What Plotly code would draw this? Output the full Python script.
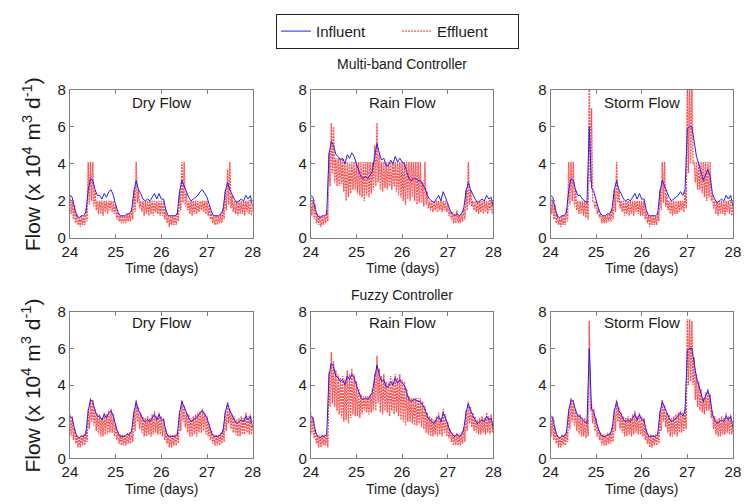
import numpy as np
import plotly.graph_objects as go

# Sample times (days), 0.05-day spacing from day 24 to day 28
t = np.round(24 + 0.05 * np.arange(81), 2)

# Influent flow (x 10^4 m3/d) for the three weather scenarios
inf_dry = [2.3, 2.2, 1.6, 1.2, 1.1, 1.2, 1.2, 1.4, 2.6, 3.2, 3.1, 2.6, 2.3, 2.3, 2.1, 2.4, 2.2, 2.5, 2.6, 2.3,
           1.8, 1.4, 1.2, 1.2, 1.2, 1.3, 1.3, 1.5, 2.5, 3.1, 2.6, 2.4, 2.1, 2.0, 2.1, 2.0, 2.2, 2.4, 2.1, 2.4,
           2.1, 2.1, 1.5, 1.2, 1.2, 1.2, 1.2, 1.3, 2.5, 3.1, 2.8, 2.4, 2.2, 2.0, 2.1, 2.2, 2.3, 2.5, 2.6, 2.4,
           2.2, 1.8, 1.4, 1.2, 1.2, 1.2, 1.3, 1.5, 2.5, 3.0, 2.6, 2.3, 2.1, 1.9, 2.0, 2.1, 2.0, 2.3, 2.1, 2.3,
           1.7]
inf_rain = [2.3, 2.2, 1.5, 1.2, 1.1, 1.2, 1.2, 1.3, 4.5, 5.2, 5.0, 4.5, 4.4, 4.2, 4.3, 4.0, 4.5, 4.3, 4.6, 4.4,
            4.0, 3.6, 3.3, 3.2, 3.3, 3.2, 3.4, 3.6, 4.4, 5.1, 4.6, 4.2, 4.3, 3.9, 3.9, 4.2, 4.0, 4.4, 4.1, 4.3,
            4.1, 4.0, 3.6, 3.2, 3.1, 3.2, 3.2, 3.1, 3.1, 2.9, 2.7, 2.3, 2.1, 2.0, 1.9, 2.1, 2.3, 2.0, 2.5, 2.2,
            1.8, 1.5, 1.3, 1.2, 1.3, 1.2, 1.3, 1.6, 2.5, 3.0, 2.6, 2.3, 2.1, 1.9, 2.0, 2.1, 2.0, 2.3, 2.1, 2.2,
            1.6]
inf_storm = [2.3, 2.2, 1.6, 1.2, 1.1, 1.2, 1.2, 1.4, 2.6, 3.2, 3.1, 2.6, 2.3, 2.3, 2.1, 2.0, 1.9, 6.0, 2.7, 2.5,
             2.0, 1.6, 1.3, 1.2, 1.2, 1.3, 1.3, 1.6, 2.6, 3.1, 2.6, 2.4, 2.1, 2.0, 2.1, 2.0, 2.2, 2.4, 2.1, 2.4,
             2.1, 2.1, 1.5, 1.2, 1.2, 1.2, 1.2, 1.3, 2.5, 3.1, 2.8, 2.4, 2.2, 2.0, 2.1, 2.2, 2.3, 2.5, 2.3, 2.6,
             5.9, 6.0, 6.0, 5.2, 4.4, 4.0, 3.6, 3.1, 3.4, 3.7, 3.3, 2.4, 2.1, 1.9, 2.0, 2.1, 2.0, 2.3, 2.1, 2.3,
             1.7]

# Effluent flow: upper and lower swing of the rapidly cycling pump output
mb_dry_hi = [2.3, 2.0, 1.8, 1.3, 1.1, 1.2, 1.2, 1.6, 4.1, 4.1, 4.1, 2.6, 2.0, 2.0, 2.0, 2.0, 2.0, 2.0, 2.0, 2.0,
             1.8, 1.4, 1.2, 1.2, 1.2, 1.3, 1.3, 1.6, 2.6, 4.1, 2.6, 2.0, 2.0, 2.0, 2.0, 2.0, 2.0, 2.0, 2.0, 2.0,
             2.0, 2.0, 1.5, 1.2, 1.2, 1.2, 1.2, 1.4, 2.6, 4.1, 4.1, 2.4, 2.0, 2.0, 2.0, 2.0, 2.0, 2.0, 2.0, 2.0,
             2.0, 1.8, 1.4, 1.2, 1.2, 1.2, 1.3, 1.6, 2.6, 3.7, 4.1, 2.3, 2.0, 2.0, 2.0, 2.0, 2.0, 2.0, 2.0, 2.0,
             1.7]
mb_dry_lo = [1.3, 1.0, 0.8, 0.7, 0.6, 0.7, 0.7, 0.9, 1.8, 2.0, 1.7, 1.5, 1.3, 1.3, 1.2, 1.4, 1.3, 1.5, 1.4, 1.3,
             1.0, 0.9, 0.8, 0.8, 0.8, 0.9, 0.9, 1.0, 1.4, 1.9, 1.6, 1.4, 1.2, 1.3, 1.2, 1.3, 1.2, 1.4, 1.3, 1.2,
             1.2, 1.0, 0.8, 0.6, 0.7, 0.7, 0.7, 0.9, 1.5, 1.9, 1.7, 1.5, 1.3, 1.2, 1.3, 1.3, 1.4, 1.5, 1.4, 1.3,
             1.2, 1.0, 0.8, 0.7, 0.7, 0.8, 0.8, 1.0, 1.5, 1.8, 1.6, 1.4, 1.3, 1.2, 1.3, 1.3, 1.2, 1.4, 1.3, 1.2,
             1.3]
mb_rain_hi = [2.2, 2.0, 1.8, 1.3, 1.2, 1.2, 1.2, 1.5, 4.6, 6.2, 6.0, 4.3, 4.3, 4.3, 4.3, 4.1, 4.1, 4.1, 4.1, 4.1,
              4.1, 4.1, 4.1, 4.1, 4.1, 4.1, 4.1, 4.1, 5.0, 6.2, 4.6, 4.1, 4.1, 4.1, 4.1, 4.1, 4.1, 4.1, 4.1, 4.1,
              4.1, 4.1, 4.1, 4.1, 4.1, 4.1, 4.1, 4.1, 4.1, 3.0, 4.1, 2.5, 2.0, 2.0, 2.0, 2.0, 2.0, 2.0, 2.0, 2.0,
              1.8, 1.5, 1.4, 1.3, 1.5, 1.2, 1.3, 1.6, 2.6, 4.1, 2.6, 2.0, 2.0, 2.0, 2.0, 2.0, 2.0, 2.0, 2.0, 2.0,
              1.6]
mb_rain_lo = [1.2, 1.0, 0.8, 0.7, 0.6, 0.7, 0.8, 0.9, 2.8, 3.5, 3.0, 2.8, 2.8, 2.9, 2.5, 2.0, 2.2, 2.4, 2.6, 2.6,
              2.4, 2.3, 2.2, 2.0, 2.3, 2.2, 2.4, 2.6, 2.8, 3.0, 2.6, 2.5, 2.7, 2.6, 2.8, 2.6, 2.8, 2.5, 2.3, 2.2,
              2.0, 1.8, 2.1, 2.0, 2.2, 2.0, 1.8, 1.9, 1.9, 1.7, 1.8, 1.6, 1.5, 1.4, 1.5, 1.4, 1.5, 1.4, 1.5, 1.4,
              1.2, 1.0, 0.8, 0.8, 0.8, 0.8, 0.9, 1.0, 1.5, 1.8, 1.7, 1.5, 1.4, 1.3, 1.4, 1.3, 1.4, 1.3, 1.5, 1.3,
              1.2]
mb_storm_hi = [2.3, 2.0, 1.8, 1.3, 1.1, 1.2, 1.2, 1.6, 4.1, 4.1, 4.1, 2.6, 2.0, 2.0, 2.0, 2.0, 2.0, 8.5, 7.0, 2.0,
               2.0, 1.6, 1.3, 1.2, 1.2, 1.3, 1.3, 1.6, 2.6, 4.1, 2.6, 2.0, 2.0, 2.0, 2.0, 2.0, 2.0, 2.0, 2.0, 2.0,
               2.0, 2.0, 1.5, 1.2, 1.2, 1.2, 1.2, 1.4, 2.6, 4.1, 4.1, 2.4, 2.0, 2.0, 2.0, 2.0, 2.0, 2.0, 2.0, 2.6,
               8.5, 8.5, 8.5, 4.1, 4.1, 4.1, 4.1, 4.1, 4.1, 4.1, 4.1, 2.4, 2.0, 2.0, 2.0, 2.0, 2.0, 2.0, 2.0, 2.0,
               1.7]
mb_storm_lo = [1.3, 1.0, 0.8, 0.7, 0.6, 0.7, 0.7, 0.9, 1.8, 2.0, 1.7, 1.5, 1.3, 1.3, 1.2, 1.1, 1.0, 3.0, 2.0, 1.6,
               1.3, 1.1, 0.8, 0.8, 0.8, 0.9, 0.9, 1.0, 1.4, 1.9, 1.6, 1.4, 1.2, 1.3, 1.2, 1.3, 1.2, 1.4, 1.3, 1.2,
               1.2, 1.0, 0.8, 0.6, 0.7, 0.7, 0.7, 0.9, 1.5, 1.9, 1.7, 1.5, 1.3, 1.2, 1.3, 1.3, 1.4, 1.5, 1.4, 1.6,
               3.5, 4.0, 4.0, 3.0, 2.6, 2.6, 2.4, 2.2, 2.0, 2.2, 2.0, 1.6, 1.3, 1.2, 1.3, 1.3, 1.2, 1.4, 1.3, 1.2,
               1.3]
fz_dry_hi = [2.4, 2.3, 1.7, 1.3, 1.2, 1.3, 1.3, 1.5, 2.7, 3.3, 3.2, 2.7, 2.4, 2.4, 2.2, 2.5, 2.4, 2.6, 2.7, 2.4,
             1.9, 1.5, 1.3, 1.3, 1.3, 1.4, 1.4, 1.6, 2.6, 3.2, 2.8, 2.5, 2.3, 2.2, 2.3, 2.2, 2.4, 2.6, 2.3, 2.5,
             2.3, 2.2, 1.6, 1.3, 1.3, 1.3, 1.3, 1.4, 2.6, 3.2, 2.9, 2.5, 2.4, 2.2, 2.3, 2.4, 2.5, 2.6, 2.7, 2.5,
             2.3, 1.9, 1.5, 1.3, 1.3, 1.3, 1.4, 1.6, 2.6, 3.1, 2.7, 2.4, 2.3, 2.1, 2.2, 2.3, 2.2, 2.5, 2.3, 2.4,
             1.8]
fz_dry_lo = [1.2, 1.0, 0.8, 0.6, 0.6, 0.7, 0.7, 0.9, 1.6, 2.0, 1.8, 1.5, 1.3, 1.2, 1.2, 1.3, 1.3, 1.4, 1.4, 1.2,
             1.0, 0.8, 0.7, 0.7, 0.7, 0.8, 0.8, 0.9, 1.5, 2.0, 1.6, 1.4, 1.2, 1.2, 1.3, 1.2, 1.3, 1.4, 1.3, 1.3,
             1.2, 1.0, 0.8, 0.6, 0.6, 0.7, 0.7, 0.8, 1.5, 2.0, 1.7, 1.4, 1.2, 1.2, 1.3, 1.2, 1.4, 1.4, 1.5, 1.3,
             1.2, 1.0, 0.8, 0.7, 0.7, 0.7, 0.8, 0.9, 1.5, 1.9, 1.6, 1.4, 1.3, 1.2, 1.2, 1.3, 1.3, 1.4, 1.3, 1.3,
             1.4]
fz_rain_hi = [2.5, 2.3, 1.6, 1.3, 1.3, 1.3, 1.3, 1.4, 4.7, 5.8, 5.3, 4.8, 4.6, 4.4, 4.5, 4.3, 4.8, 4.6, 4.9, 4.6,
              4.2, 3.8, 3.5, 3.4, 3.4, 3.4, 3.5, 3.8, 4.6, 5.6, 4.9, 4.5, 4.6, 4.2, 4.2, 4.5, 4.3, 4.6, 4.4, 4.6,
              4.3, 4.2, 3.8, 3.4, 3.3, 3.3, 3.3, 3.3, 3.3, 3.1, 2.9, 2.5, 2.3, 2.2, 2.1, 2.3, 2.5, 2.2, 2.7, 2.4,
              2.0, 1.6, 1.4, 1.3, 1.4, 1.3, 1.4, 1.7, 2.6, 3.1, 2.8, 2.5, 2.3, 2.1, 2.2, 2.3, 2.2, 2.5, 2.3, 2.4,
              1.8]
fz_rain_lo = [1.3, 1.1, 0.8, 0.6, 0.6, 0.7, 0.7, 0.6, 2.8, 3.0, 2.8, 2.6, 2.4, 2.2, 2.0, 2.1, 1.9, 2.2, 2.4, 2.3,
              2.3, 2.2, 2.4, 2.6, 2.5, 2.4, 2.5, 2.6, 2.6, 3.0, 2.5, 2.4, 2.6, 2.5, 2.3, 2.6, 2.4, 2.5, 2.3, 2.1,
              2.0, 1.8, 2.0, 2.0, 1.9, 1.8, 1.8, 1.9, 1.7, 1.6, 1.4, 1.3, 1.2, 1.2, 1.3, 1.2, 1.3, 1.2, 1.4, 1.2,
              1.1, 0.9, 0.7, 0.7, 0.7, 0.7, 0.8, 0.9, 1.5, 1.9, 1.7, 1.5, 1.4, 1.3, 1.3, 1.4, 1.3, 1.4, 1.3, 1.4,
              1.4]
fz_storm_hi = [2.4, 2.3, 1.7, 1.3, 1.2, 1.3, 1.3, 1.5, 2.7, 3.3, 3.2, 2.7, 2.4, 2.4, 2.2, 2.2, 2.1, 7.5, 3.0, 2.7,
               2.2, 1.7, 1.4, 1.3, 1.3, 1.4, 1.4, 1.7, 2.7, 3.2, 2.8, 2.5, 2.3, 2.2, 2.3, 2.2, 2.4, 2.6, 2.3, 2.5,
               2.3, 2.2, 1.6, 1.3, 1.3, 1.3, 1.3, 1.4, 2.6, 3.2, 2.9, 2.5, 2.4, 2.2, 2.3, 2.4, 2.5, 2.6, 2.5, 2.8,
               7.6, 7.6, 7.5, 5.5, 4.6, 4.2, 3.8, 3.3, 3.6, 3.8, 3.5, 2.6, 2.3, 2.1, 2.2, 2.3, 2.2, 2.5, 2.3, 2.4,
               1.8]
fz_storm_lo = [1.2, 1.0, 0.8, 0.6, 0.6, 0.7, 0.7, 0.9, 1.6, 2.0, 1.8, 1.5, 1.3, 1.2, 1.2, 1.1, 1.2, 2.6, 1.9, 1.5,
               1.2, 1.0, 0.7, 0.7, 0.7, 0.8, 0.8, 0.9, 1.5, 2.0, 1.6, 1.4, 1.2, 1.2, 1.3, 1.2, 1.3, 1.4, 1.3, 1.3,
               1.2, 1.0, 0.8, 0.6, 0.6, 0.7, 0.7, 0.8, 1.5, 2.0, 1.7, 1.4, 1.2, 1.2, 1.3, 1.2, 1.4, 1.4, 1.5, 1.6,
               4.0, 4.2, 4.0, 3.2, 2.8, 2.6, 2.5, 2.4, 2.6, 2.6, 2.2, 1.6, 1.3, 1.2, 1.2, 1.3, 1.3, 1.4, 1.3, 1.3,
               1.4]

scenario_titles = ["Dry Flow", "Rain Flow", "Storm Flow"]
controller_titles = ["Multi-band Controller", "Fuzzy Controller"]

panels = [
    # (row, col, influent, effluent high, effluent low)
    (0, 0, inf_dry, mb_dry_hi, mb_dry_lo),
    (0, 1, inf_rain, mb_rain_hi, mb_rain_lo),
    (0, 2, inf_storm, mb_storm_hi, mb_storm_lo),
    (1, 0, inf_dry, fz_dry_hi, fz_dry_lo),
    (1, 1, inf_rain, fz_rain_hi, fz_rain_lo),
    (1, 2, inf_storm, fz_storm_hi, fz_storm_lo),
]

W, H = 752, 504
col_px = [(63.3, 250.0), (309.3, 496.0), (554.3, 740.7)]
row_px = [(83.5, 237.0), (313.5, 465.0)]  # top, bottom of each plot row
title_px = [96.5, 324.0]        # scenario label centre (inside the frame)
xtitle_px = [268.0, 497.0]      # "Time (days)" centre
ctrl_px = [57.0, 296.0]         # controller heading centre

FONT = "Liberation Sans, Arial, sans-serif"
TXT = "#1a1a1a"
AX = "#808080"

fig = go.Figure()
layout = {}
annotations = []

# half-step offset so each pump cycle draws as a down-stroke
half = 0.025
for k, (r, c, inf, hi, lo) in enumerate(panels):
    idx = "" if k == 0 else str(k + 1)
    xa, ya = "x" + idx, "y" + idx
    ex = np.empty(2 * len(t))
    ey = np.empty(2 * len(t))
    ex[0::2] = t
    ex[1::2] = t + half
    ey[0::2] = hi
    ey[1::2] = lo
    fig.add_trace(go.Scatter(
        x=ex, y=ey, mode="lines", name="Effluent", legendgroup="eff", legendrank=2,
        showlegend=(k == 0), xaxis=xa, yaxis=ya,
        line=dict(color="rgba(255,0,0,0.68)", width=1.4, dash="2px,1px")))
    fig.add_trace(go.Scatter(
        x=t, y=inf, mode="lines", name="Influent", legendgroup="inf", legendrank=1,
        showlegend=(k == 0), xaxis=xa, yaxis=ya,
        line=dict(color="#1f1fff", width=1.0)))

    x0, x1 = col_px[c]
    top, bot = row_px[r]
    axis_common = dict(showline=True, mirror="allticks", linecolor=AX, linewidth=1,
                       ticks="inside", ticklen=4, tickcolor=AX, showgrid=False, zeroline=False,
                       tickfont=dict(family=FONT, size=15, color=TXT))
    layout["xaxis" + idx] = dict(domain=[x0 / W, x1 / W], anchor=ya, range=[24, 28],
                                 tickvals=[24, 25, 26, 27, 28], **axis_common)
    layout["yaxis" + idx] = dict(domain=[1 - bot / H, 1 - top / H], anchor=xa, range=[0, 8],
                                 tickvals=[0, 2, 4, 6, 8], **axis_common)

    cx = (x0 + x1) / 2 / W
    annotations.append(dict(text=scenario_titles[c], x=cx, y=1 - title_px[r] / H, xref="paper",
                            yref="paper", showarrow=False, xanchor="center", yanchor="middle",
                            font=dict(family=FONT, size=15, color=TXT)))
    annotations.append(dict(text="Time (days)", x=cx, y=1 - xtitle_px[r] / H, xref="paper",
                            yref="paper", showarrow=False, xanchor="center", yanchor="middle",
                            font=dict(family=FONT, size=14, color=TXT)))
    if c == 0:
        annotations.append(dict(text="Flow (x 10<sup>4</sup> m<sup>3</sup> d<sup>-1</sup>)",
                                x=24 / W, y=1 - (top + bot) / 2 / H, xref="paper", yref="paper",
                                showarrow=False, textangle=-90, xanchor="center", yanchor="middle",
                                font=dict(family=FONT, size=21, color=TXT)))

for r, title in enumerate(controller_titles):
    annotations.append(dict(text=title, x=403 / W, y=1 - ctrl_px[r] / H, xref="paper",
                            yref="paper", showarrow=False, xanchor="center", yanchor="middle",
                            font=dict(family=FONT, size=14, color=TXT)))

fig.update_layout(
    width=W, height=H,
    margin=dict(l=0, r=0, t=0, b=0),
    paper_bgcolor="white", plot_bgcolor="white",
    font=dict(family=FONT, color=TXT),
    annotations=annotations,
    legend=dict(orientation="h", x=398 / W, xanchor="center", y=1 - 5 / H, yanchor="top",
                bordercolor="#222222", borderwidth=1, bgcolor="white",
                font=dict(family=FONT, size=15, color=TXT), entrywidth=76, entrywidthmode="pixels"),
    **layout,
)

# page body without the browser's default margin
fig.write_html("out.html",
               post_script="document.body.style.margin='0';"
                           "document.documentElement.style.overflow='hidden';")
